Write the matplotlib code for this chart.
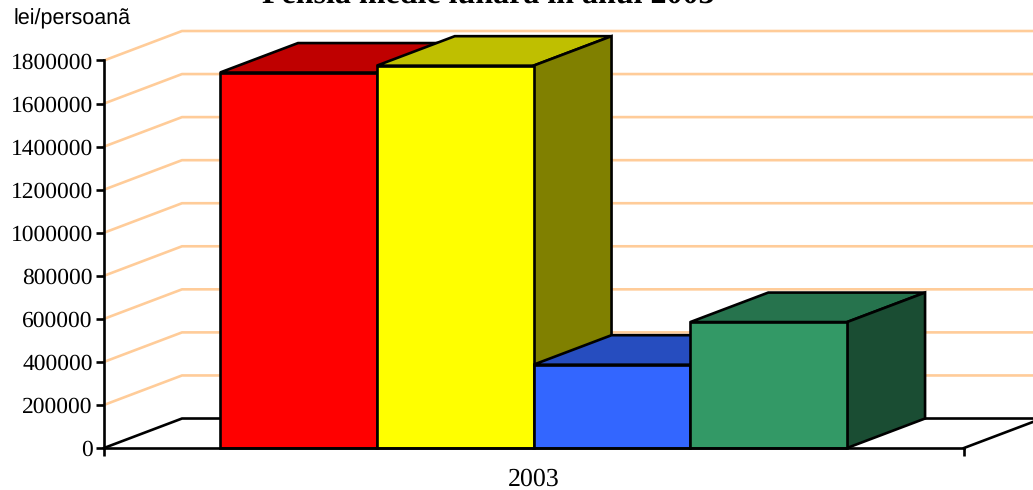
# -*- coding: utf-8 -*-
"""Pensia medie lunara - coloane 3D desenate cu poligoane"""
import matplotlib
matplotlib.use('Agg')
import matplotlib.pyplot as plt
from matplotlib.patches import Polygon
import numpy as np

# valorile coloanelor (lei/persoana)
series_values = [1744000, 1776000, 387000, 585000]
series_colors = ['#FF0000', '#FFFF00', '#3366FF', '#339966']
year_label = '2003'
y_ticks = [0, 200000, 400000, 600000, 800000, 1000000, 1200000, 1400000, 1600000, 1800000]

W, H = 1033, 490
GRID = '#FFCC99'
LW = 1.9

plt.rcParams['font.family'] = ['Liberation Serif', 'DejaVu Serif']
plt.rcParams['text.hinting'] = 'no_hinting'

fig = plt.figure(figsize=(W / 100, H / 100), dpi=100)
# axele in pixeli: x 104-964, y 60.5-448
ax = fig.add_axes([104 / W, 1 - 448 / H, 860 / W, 387.5 / H])

x = np.arange(len(series_values))
x_left, x_right = -1.24, 4.246
ax.set_xlim(x_left, x_right)
ax.set_ylim(0, 1800000)

# adancimea 3D in unitati de date
depth_x = 0.4976
depth_y = 137000


def shade(color, factor):
    rgb = np.array(matplotlib.colors.to_rgb(color))
    return tuple(rgb * factor)


# peretele din spate si podeaua
for v in y_ticks:
    c = 'black' if v == 0 else GRID
    z = 2 if v == 0 else 1
    ax.plot([x_left, x_left + depth_x, x_right + depth_x],
            [v, v + depth_y, v + depth_y],
            color=c, lw=LW, clip_on=False, zorder=z, solid_joinstyle='miter')
ax.plot([x_right, x_right + depth_x], [0, depth_y], color='black', lw=LW,
        clip_on=False, zorder=2)

# coloanele, de la stanga la dreapta
for i, (val, col) in enumerate(zip(series_values, series_colors)):
    z = 3 + i
    l, r = x[i] - 0.5, x[i] + 0.5
    ax.bar(x[i], val, width=1.0, color=col, edgecolor='black', linewidth=LW,
           zorder=z + 0.2, clip_on=False)
    top = Polygon([(l, val), (r, val), (r + depth_x, val + depth_y), (l + depth_x, val + depth_y)],
                  closed=True, facecolor=shade(col, 0.75), edgecolor='black',
                  linewidth=LW, zorder=z, clip_on=False)
    side = Polygon([(r, 0), (r, val), (r + depth_x, val + depth_y), (r + depth_x, depth_y)],
                   closed=True, facecolor=shade(col, 0.5), edgecolor='black',
                   linewidth=LW, zorder=z, clip_on=False)
    ax.add_patch(top)
    ax.add_patch(side)

# axele
for s in ['top', 'right']:
    ax.spines[s].set_visible(False)
for s in ['left', 'bottom']:
    ax.spines[s].set_linewidth(LW)
    ax.spines[s].set_zorder(10)

ax.set_yticks(y_ticks)
ax.set_yticklabels([str(v) for v in y_ticks])
ax.tick_params(axis='y', length=5.5, width=LW, labelsize=16.9, pad=2.5)

ax.set_xticks([x_left, x_right])
ax.set_xticklabels(['', ''])
ax.set_xticks([x.mean()], minor=True)
ax.set_xticklabels([year_label], minor=True, fontsize=18.6)
ax.tick_params(axis='x', which='major', length=5.5, width=LW)
ax.tick_params(axis='x', which='minor', length=0, pad=14.5)

fig.text(14 / W, 1 - 24 / H, 'lei/persoanã', fontsize=15.5, family=['Liberation Sans', 'DejaVu Sans'],
         ha='left', va='baseline')
fig.text(488.5 / W, 1 - 3 / H, 'Pensia medie lunara in anul 2003', fontsize=23, fontweight='bold',
         ha='center', va='baseline')

fig.savefig('out.png', dpi=100)
plt.close(fig)
